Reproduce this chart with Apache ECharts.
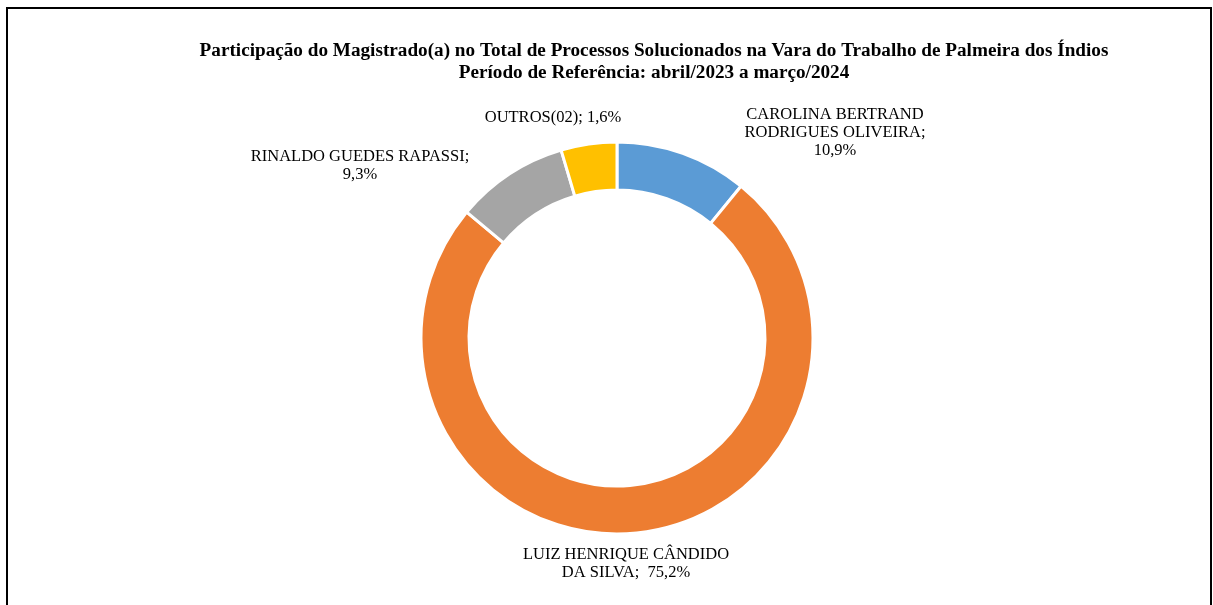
<!DOCTYPE html>
<html>
<head>
<meta charset="utf-8">
<script src="https://cdn.jsdelivr.net/npm/echarts@6/dist/echarts.min.js"></script>
<style>
  html, body { margin: 0; padding: 0; background: #fff; }
  #chart { width: 1213px; height: 605px; }
</style>
</head>
<body>
<div id="chart"></div>
<script>
// dados do gráfico
var names = ["CAROLINA BERTRAND\nRODRIGUES OLIVEIRA;", "LUIZ HENRIQUE CÂNDIDO\nDA SILVA; ", "RINALDO GUEDES RAPASSI;", "OUTROS(02);"];
var values = [10.9, 75.2, 9.3, 4.6];
var pctLabels = ["10,9%", "75,2%", "9,3%", "1,6%"];
var colors = ["#5B9BD5", "#ED7D31", "#A5A5A5", "#FFC000"];

var myChart = echarts.init(document.getElementById('chart'));

// posição de cada rótulo
var labelPos = [
  { x: 835, y: 133 },
  { x: 626, y: 564 },
  { x: 360, y: 166 },
  { x: 553, y: 118 }
];

var data = [];
for (var i = 0; i < names.length; i++) {
  var sep = (i === 0 || i === 2) ? "\n" : " ";
  data.push({
    name: names[i],
    value: values[i],
    itemStyle: { color: colors[i] },
    label: { formatter: names[i] + sep + pctLabels[i] }
  });
}

var option = {
  animation: false,
  title: {
    text: "Participação do Magistrado(a) no Total de Processos Solucionados na Vara do Trabalho de Palmeira dos Índios\nPeríodo de Referência: abril/2023 a março/2024",
    left: 649,
    top: 35,
    textAlign: 'center',
    textStyle: {
      fontFamily: "Liberation Serif",
      fontWeight: 'bold',
      fontSize: 19.2,
      lineHeight: 22,
      color: '#000'
    }
  },
  graphic: [{
    type: 'rect',
    shape: { x: 7, y: 8, width: 1204, height: 620 },
    style: { fill: null, stroke: '#000', lineWidth: 2 },
    silent: true
  }],
  series: [{
    type: 'pie',
    center: [617, 338],
    radius: [148, 196],
    startAngle: 90,
    clockwise: true,
    itemStyle: { borderColor: '#fff', borderWidth: 3 },
    label: {
      show: true,
      position: 'outside',
      fontFamily: "Liberation Serif",
      fontSize: 16.5,
      lineHeight: 18,
      color: '#000',
      align: 'center'
    },
    labelLine: { show: false },
    labelLayout: function (params) {
      var p = labelPos[params.dataIndex];
      return { x: p.x, y: p.y, align: 'center', verticalAlign: 'middle' };
    },
    data: data
  }]
};
myChart.setOption(option);
</script>
</body>
</html>
